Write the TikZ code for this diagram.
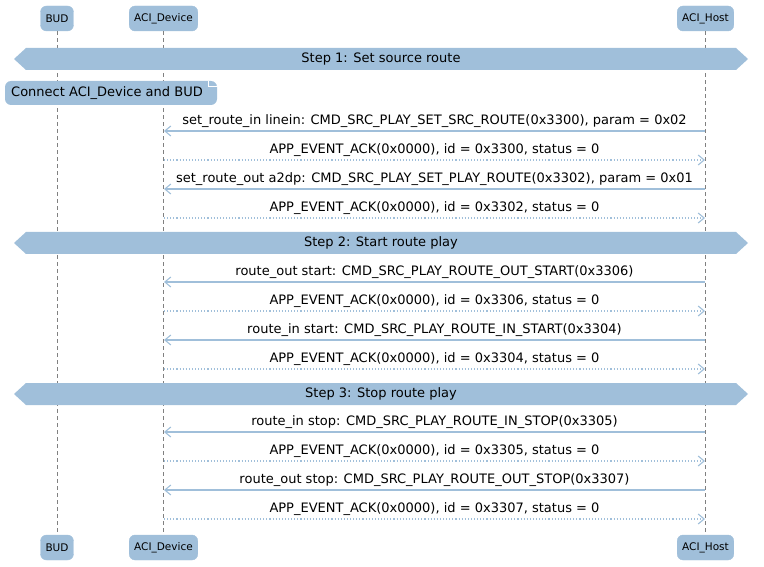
\documentclass[tikz,border=0pt]{standalone}
\usepackage{fontspec}
\setmainfont{DejaVu Sans}
\usetikzlibrary{arrows.meta}
\definecolor{seqblue}{HTML}{A0BFDA}

\begin{document}
\begin{tikzpicture}[x=1pt,y=-1pt]
    \tikzstyle{actor}=[rectangle, rounded corners=6pt, fill=seqblue, draw=seqblue, minimum height=25pt, inner xsep=5pt, font=\fontsize{10.5}{12}\selectfont, text=black]
    \tikzstyle{life}=[gray, dash pattern=on 4pt off 3pt, line width=0.6pt]
    \tikzstyle{msg}=[seqblue, line width=1.1pt, -{Straight Barb[length=6pt,width=10pt]}]
    \tikzstyle{ack}=[msg, dotted]
    \tikzstyle{lbl}=[font=\fontsize{13}{15}\selectfont, text=black, inner sep=1pt]
    \useasboundingbox (0,0) rectangle (764,567);

    \node[actor] (budT) at (57,18.5) {BUD};
    \node[actor] (devT) at (163.5,18.5) {ACI\_Device};
    \node[actor] (hostT) at (705.5,18.5) {ACI\_Host};
    \node[actor] (budB) at (57,547.5) {BUD};
    \node[actor] (devB) at (163.5,547.5) {ACI\_Device};
    \node[actor] (hostB) at (705.5,547.5) {ACI\_Host};

    \draw[life] (budT) -- (budB);
    \draw[life] (devT) -- (devB);
    \draw[life] (hostT) -- (hostB);

    % steps
    \foreach \y/\t in {59/Step 1: Set source route, 243/Step 2: Start route play, 394/Step 3: Stop route play} {
        \fill[seqblue] (14,\y) -- (26,\y-11) -- (736,\y-11) -- (748,\y) -- (736,\y+11) -- (26,\y+11) -- cycle;
        \node[lbl] at (381,\y) {\t};
    }

    % note
    \fill[seqblue, rounded corners=6pt] (5,81) rectangle (217,105);
    \node[lbl, anchor=west] (note) at (10,93) {Connect ACI\_Device and BUD};
    \draw[white, line width=0.4pt] (208,81) -- (208,86) -- (217,86);

    % messages
    \foreach \y/\t/\k in {
        131/{set\_route\_in linein: CMD\_SRC\_PLAY\_SET\_SRC\_ROUTE(0x3300), param = 0x02}/0,
        160/{APP\_EVENT\_ACK(0x0000), id = 0x3300, status = 0}/1,
        189/{set\_route\_out a2dp: CMD\_SRC\_PLAY\_SET\_PLAY\_ROUTE(0x3302), param = 0x01}/0,
        218/{APP\_EVENT\_ACK(0x0000), id = 0x3302, status = 0}/1,
        282/{route\_out start: CMD\_SRC\_PLAY\_ROUTE\_OUT\_START(0x3306)}/0,
        311/{APP\_EVENT\_ACK(0x0000), id = 0x3306, status = 0}/1,
        340/{route\_in start: CMD\_SRC\_PLAY\_ROUTE\_IN\_START(0x3304)}/0,
        369/{APP\_EVENT\_ACK(0x0000), id = 0x3304, status = 0}/1,
        432/{route\_in stop: CMD\_SRC\_PLAY\_ROUTE\_IN\_STOP(0x3305)}/0,
        461/{APP\_EVENT\_ACK(0x0000), id = 0x3305, status = 0}/1,
        490/{route\_out stop: CMD\_SRC\_PLAY\_ROUTE\_OUT\_STOP(0x3307)}/0,
        519/{APP\_EVENT\_ACK(0x0000), id = 0x3307, status = 0}/1} {
        \coordinate (d) at (164,\y);
        \coordinate (h) at (705,\y);
        \ifnum\k=0
            \draw[msg] (h) -- (d);
        \else
            \draw[ack] (d) -- (h);
        \fi
        \node[lbl] at (434.5,\y-10) {\t};
    }
\end{tikzpicture}
\end{document}
